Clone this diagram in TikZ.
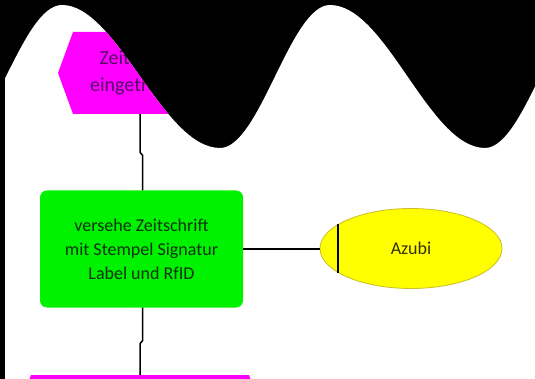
\documentclass[tikz,border=0pt]{standalone}
\usepackage{fontspec}
\setmainfont{Carlito}
\usetikzlibrary{shapes.geometric}
\definecolor{magA}{RGB}{255,0,255}
\definecolor{grnA}{RGB}{0,242,0}
\definecolor{yelA}{RGB}{255,255,0}
\definecolor{yelB}{RGB}{200,190,40}
\definecolor{magT}{RGB}{85,10,105}
\definecolor{grnT}{RGB}{12,50,12}
\definecolor{yelT}{RGB}{50,48,0}
\tikzset{
  evfill/.style={fill=magA},
  evtext/.style={text=magT, align=center, inner sep=0pt, minimum height=82pt,
    font=\fontsize{20}{27}\selectfont},
  funcbox/.style={rectangle, rounded corners=7pt, fill=grnA, text=grnT, align=center,
    minimum width=203pt, minimum height=117pt, inner sep=0pt,
    font=\fontsize{18}{24}\selectfont},
  orgunit/.style={ellipse, fill=yelA, draw=yelB, line width=0.8pt, text=yelT,
    minimum width=182pt, minimum height=80pt, inner sep=0pt,
    font=\fontsize{18}{22}\selectfont},
  conn/.style={draw=black, line width=1.5pt},
}
\begin{document}
\begin{tikzpicture}[x=1pt,y=-1pt]
\useasboundingbox (0,0) rectangle (535,379);
\fill[black] (0,0) rectangle (535,379);
\begin{scope}
  \clip (5,0) rectangle (535,379);
  \clip (-50,400) -- (-50,148)
    .. controls (-9.3,148) and (21.3,5) .. (62,5)
    .. controls (117,5) and (162.6,148) .. (220,148)
    .. controls (259.9,148) and (290.1,5) .. (330,5)
    .. controls (386.3,5) and (428.7,148) .. (485,148)
    .. controls (524.9,148) and (555.1,5) .. (595,5)
    -- (595,400) -- cycle;
  \fill[white] (0,0) rectangle (535,379);

  % top event (hexagon)
  \coordinate (hexAc) at (140,73);
  \fill[evfill] (hexAc) ++(-67,-41) -- ++(134,0) -- ++(15,41) -- ++(-15,41)
    -- ++(-134,0) -- ++(-15,-41) -- cycle;
  \node[evtext, minimum width=164pt] (hexA) at (hexAc) {Zeitschrift\\eingetroffen};

  % function
  \node[funcbox] (green) at (141.5,249) {versehe Zeitschrift\\mit Stempel Signatur\\Label und RfID};

  % organisational unit
  \node[orgunit] (azubi) at (411,248.5) {Azubi};
  \draw[line width=1.8pt] ([xshift=18pt,yshift=24.5pt]azubi.west) -- ([xshift=18pt,yshift=-24.5pt]azubi.west);

  % bottom event (hexagon)
  \coordinate (hexBc) at (140,416);
  \fill[evfill] (hexBc) ++(-109,-41) -- ++(218,0) -- ++(15,41) -- ++(-15,41)
    -- ++(-218,0) -- ++(-15,-41) -- cycle;
  \node[evtext, minimum width=248pt] (hexB) at (hexBc) {};

  % connectors
  \coordinate (j1) at (142.5,0);
  \draw[conn] (hexA.south) -- ++(0,38) -- ++(2.5,3) -- (green.north -| j1);
  \draw[conn] (green.south -| j1) -- ++(0,33) -- ++(-2.5,3) -- (hexB.north);
  \draw[conn] (green.east) -- (azubi.west |- green.east);
\end{scope}
\end{tikzpicture}
\end{document}
